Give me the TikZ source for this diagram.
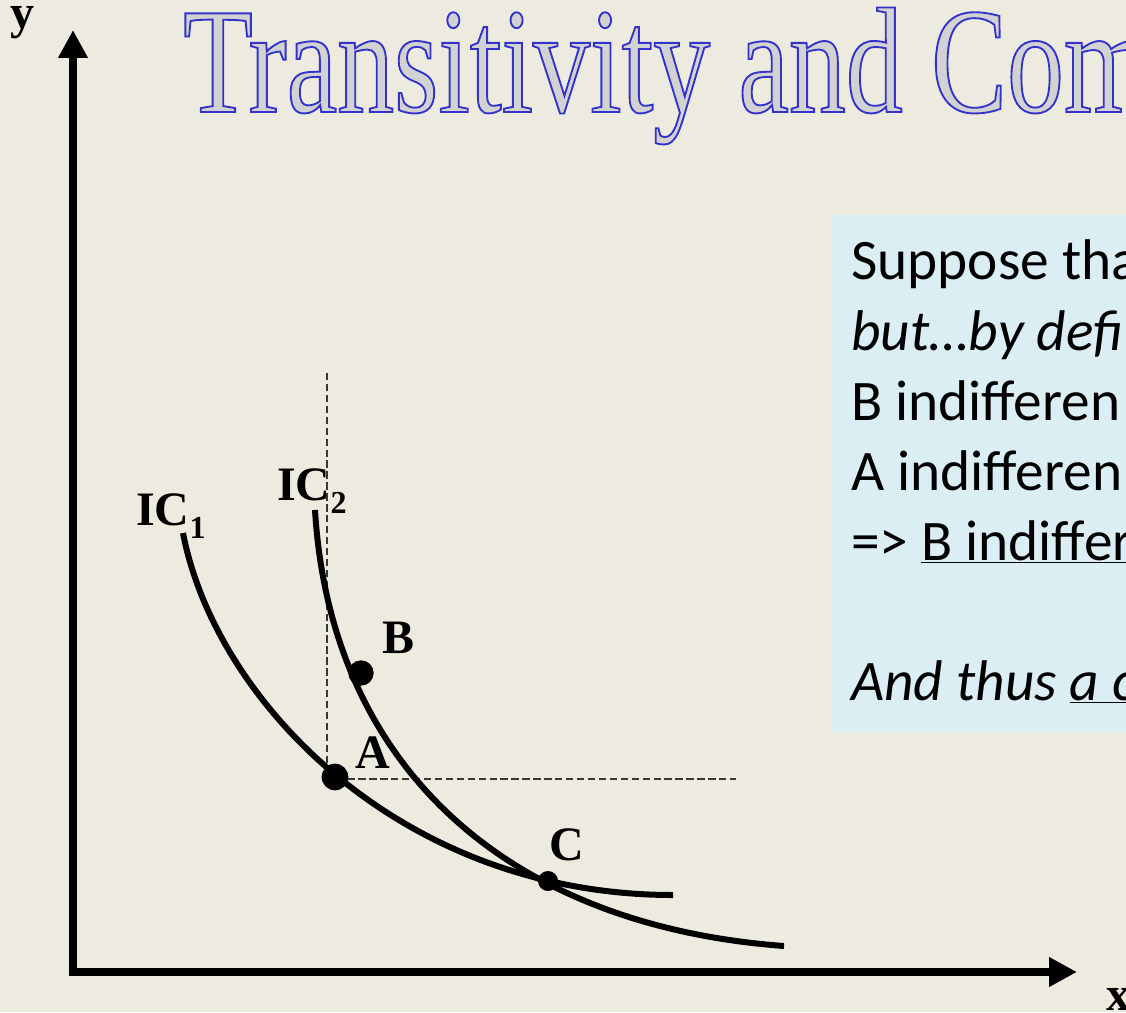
\documentclass[tikz,border=0pt]{standalone}
\usepackage{fontspec}
\setmainfont{Liberation Serif}
\newfontfamily\boxfont{Carlito}
\newfontfamily\titlefont[FakeStretch=0.755]{Liberation Serif}
\usetikzlibrary{arrows.meta}
\definecolor{bgcream}{RGB}{237,235,224}
\definecolor{boxblue}{RGB}{219,238,244}
\definecolor{guidegray}{RGB}{55,55,55}
\definecolor{titlegray}{RGB}{210,210,210}

% outlined title letters: grey fill (text colour), blue stroke
\newcommand{\outlinetext}[1]{\special{pdf:code q 2 Tr 1.4 w 0.2 0.2 0.8 RG}#1\special{pdf:code Q}}
\newcommand{\icsub}[1]{\raisebox{-10pt}{\fontsize{24}{24}\selectfont #1}}

\tikzset{
  axis/.style={line width=6.5pt, {Triangle[length=21pt,width=21pt]}-{Triangle[length=21pt,width=21pt]}},
  curve/.style={line width=4.5pt},
  guide/.style={line width=1.1pt, guidegray, dash pattern=on 5.5pt off 2.7pt},
  dot/.style={circle, fill=black, inner sep=0pt, minimum size=#1},
  ptlabel/.style={anchor=base west, inner sep=0pt, font=\bfseries\fontsize{36}{36}\selectfont},
  boxtext/.style={anchor=base west, inner sep=0pt, font=\boxfont\fontsize{43}{50}\selectfont}
}

\begin{document}
\begin{tikzpicture}[x=0.75pt, y=-0.75pt]
\useasboundingbox (0,0) rectangle (1126,1012);
\clip (0,0) rectangle (1126,1012);
\fill[bgcream] (0,0) rectangle (1126,1012);

% Title
\node[anchor=base west, inner sep=0pt, text=titlegray, font=\titlefont\fontsize{113}{113}\selectfont] (title) at (183,112) {\outlinetext{Transitivity and Com}};

% Text box
\fill[boxblue] (832,215) rectangle (1130,732);
\node[boxtext] (suppose) at (851,280) {Suppose tha};
\node[boxtext] (butby) at (851,350) {\itshape but…by defi};
\node[boxtext] (bline) at (851,420) {B indifferen};
\node[boxtext] (aline) at (851,490) {A indifferen};
\node[boxtext] (thenline) at (851,560) {=> \underline{B indiffer}};
\node[boxtext] (thus) at (851,700) {\itshape And thus \underline{a c}};

% Axes
\coordinate (O) at (73,972);
\coordinate (ytip) at (73,30);
\coordinate (xtip) at (1077,972);
\draw[axis] (ytip) -- (O) -- (xtip);
\node[ptlabel] (ylabel) at (10,29) {y};
\node[ptlabel] (xlabel) at (1106,1010) {x};

% Guides through A
\coordinate (Atop) at (327,373);
\coordinate (Aright) at (736,779);
\draw[guide] (Atop) |- (Aright);

% Indifference curves
\coordinate (ic1start) at (183,533);
\coordinate (ic1end) at (673,895);
\coordinate (ic2start) at (315,510);
\coordinate (ic2end) at (784,946);
\draw[curve] (ic1start) .. controls (215,700) and (400,895) .. (ic1end);
\draw[curve] (ic2start) .. controls (330,760) and (500,925) .. (ic2end);

% Bundles
\node[dot=20pt] (A) at (335,777) {};
\node[dot=19pt] (B) at (361,673) {};
\node[dot=15pt] (C) at (548,881) {};

% Labels
\node[ptlabel] (ic1) at (136,525) {IC\icsub{1}};
\node[ptlabel] (ic2) at (277,500) {IC\icsub{2}};
\node[ptlabel] (labB) at (382,653) {B};
\node[ptlabel] (labA) at (355,768) {A};
\node[ptlabel] (labC) at (549,860) {C};
\end{tikzpicture}
\end{document}
